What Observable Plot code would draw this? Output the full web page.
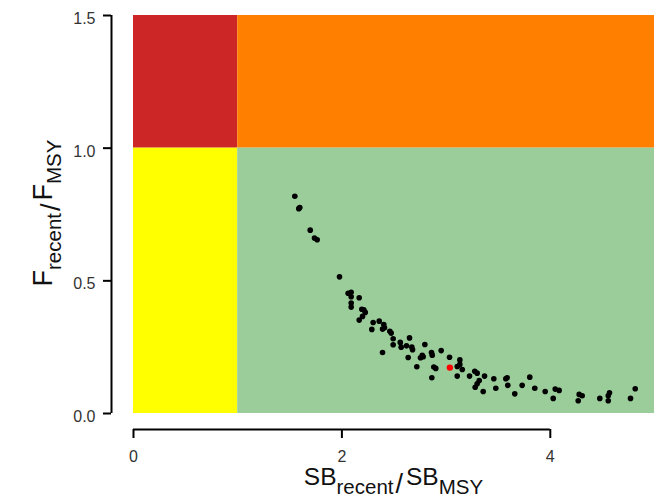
<!DOCTYPE html>
<html><head><meta charset="utf-8">
<script src="https://cdn.jsdelivr.net/npm/d3@7"></script>
<script src="https://cdn.jsdelivr.net/npm/@observablehq/plot@0.6"></script>
<style>
body{margin:0;background:#fff} svg{display:block}
svg g[aria-label*="tick label"], svg g[aria-label*="tick label"] text { font-size: 16px !important; }
</style>
</head><body><div id="chart"></div>
<script>
// SB_recent / SB_MSY for each point
const sbRatio = [1.548,1.586,1.596,1.696,1.737,1.763,1.977,2.060,2.089,2.089,2.166,2.089,2.089,2.191,2.210,2.224,2.198,2.166,2.300,2.358,2.402,2.390,2.409,2.287,2.460,2.473,2.492,2.649,2.560,2.492,2.569,2.620,2.671,2.678,2.796,2.390,2.636,2.754,2.780,2.771,2.860,2.867,2.719,2.882,2.901,2.863,2.953,3.033,3.107,3.132,3.155,3.132,3.107,3.225,3.275,3.298,3.318,3.298,3.279,3.369,3.356,3.458,3.573,3.586,3.477,3.592,3.659,3.730,3.803,3.851,3.951,4.047,4.085,4.028,4.277,4.306,4.268,4.475,4.556,4.568,4.556,4.770,4.815];
// F_recent / F_MSY for each point
const fRatio = [0.819,0.772,0.776,0.691,0.661,0.655,0.515,0.453,0.457,0.440,0.436,0.416,0.401,0.393,0.391,0.381,0.366,0.352,0.343,0.348,0.335,0.318,0.323,0.317,0.310,0.303,0.282,0.285,0.268,0.259,0.250,0.255,0.250,0.240,0.260,0.230,0.211,0.210,0.214,0.219,0.230,0.220,0.176,0.175,0.170,0.135,0.237,0.212,0.177,0.185,0.166,0.202,0.141,0.141,0.159,0.152,0.124,0.112,0.099,0.141,0.083,0.131,0.131,0.135,0.095,0.106,0.074,0.106,0.137,0.095,0.083,0.092,0.087,0.057,0.072,0.067,0.048,0.057,0.067,0.078,0.048,0.057,0.093];
// highlighted (red) point
const sbHighlight = [3.036];
const fHighlight = [0.173];
// Kobe zones
const zoneNames = ["overfished, overfishing", "not overfished, overfishing", "overfished, no overfishing", "not overfished, no overfishing"];
const zoneSB = [[0, 1], [1, 5], [0, 1], [1, 5]];
const zoneF = [[1, 1.5], [1, 1.5], [0, 1], [0, 1]];
const zoneColors = ["#CD2626", "#FF7F00", "#FFFF00", "#9BCD9B"];
const xTicks = [0, 2, 4];
const yTicks = [0, 0.5, 1, 1.5];

const zones = zoneNames.map((z, i) => ({zone: z, x1: zoneSB[i][0], x2: zoneSB[i][1], y1: zoneF[i][0], y2: zoneF[i][1]}));
const pts = sbRatio.map((x, i) => ({x, y: fRatio[i]}));
const hl = sbHighlight.map((x, i) => ({x, y: fHighlight[i]}));
const FONT = "'Liberation Sans', Arial, sans-serif";

const chart = Plot.plot({
  width: 663, height: 499,
  marginLeft: 133, marginRight: 9, marginTop: 15, marginBottom: 86,
  style: {fontFamily: FONT, fontSize: "16px", background: "#fff"},
  x: {domain: [0, 5]},
  y: {domain: [0, 1.5]},
  color: {domain: zoneNames, range: zoneColors},
  marks: [
    Plot.rect(zones, {x1: "x1", x2: "x2", y1: "y1", y2: "y2", fill: "zone"}),
    Plot.dot(pts, {x: "x", y: "y", r: 2.8, fill: "black", stroke: "none"}),
    Plot.dot(hl, {x: "x", y: "y", r: 3.2, fill: "#FF0000", stroke: "none"}),
    Plot.ruleX([0], {y1: 0, y2: 1.5, dx: -22, stroke: "black", strokeWidth: 2}),
    Plot.ruleY([0], {x1: 0, x2: 4, dy: 16, stroke: "black", strokeWidth: 2}),
    Plot.axisY({ticks: yTicks, tickSize: 8, tickFormat: () => "", dx: -22, strokeWidth: 2, stroke: "black", label: null}),
    Plot.axisY({ticks: yTicks, tickSize: 0, tickPadding: 16, dx: -22, dy: 3.5, tickFormat: d3.format(".1f"), fill: "#333", label: null}),
    Plot.axisX({ticks: xTicks, tickSize: 9, tickPadding: 12, dy: 16, strokeWidth: 2, stroke: "black", tickFormat: d3.format("d"), fill: "#333", label: null})
  ]
});
document.getElementById("chart").appendChild(chart);

const svg = d3.select(chart);
// x title: SB_recent / SB_MSY
const xt = svg.append("text").attr("x", 393.5).attr("y", 485).attr("text-anchor", "middle")
  .attr("font-family", FONT).attr("fill", "#111");
xt.append("tspan").attr("font-size", 24.5).text("SB");
xt.append("tspan").attr("font-size", 20.5).attr("dy", 9).text("recent");
xt.append("tspan").attr("font-size", 27).attr("dy", -1).attr("dx", 2).text("/");
xt.append("tspan").attr("font-size", 24.5).attr("dy", -8).attr("dx", 3).text("SB");
xt.append("tspan").attr("font-size", 20.5).attr("dy", 9).text("MSY");

// y title: F_recent / F_MSY
const yt = svg.append("text").attr("transform", "translate(52,213) rotate(-90)").attr("text-anchor", "middle")
  .attr("font-family", FONT).attr("fill", "#111");
yt.append("tspan").attr("font-size", 27).text("F");
yt.append("tspan").attr("font-size", 20.5).attr("dy", 9).text("recent");
yt.append("tspan").attr("font-size", 27).attr("dy", -1).attr("dx", 2).text("/");
yt.append("tspan").attr("font-size", 27).attr("dy", -8).attr("dx", 3).text("F");
yt.append("tspan").attr("font-size", 20.5).attr("dy", 9).text("MSY");
</script>
</body></html>
